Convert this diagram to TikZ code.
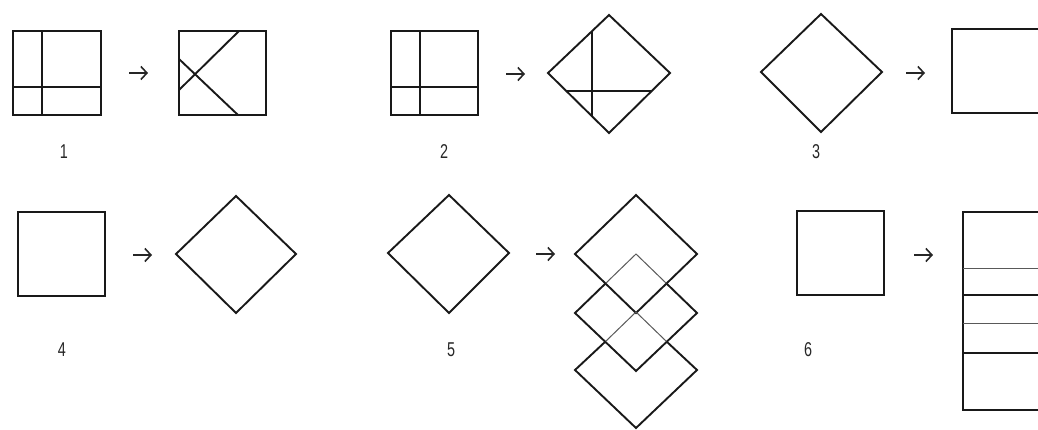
\documentclass[tikz,border=0pt]{standalone}
\usepackage{fontspec}
\setmainfont[FakeStretch=0.72]{Liberation Sans}
\usetikzlibrary{arrows.meta}
\tikzset{
  shp/.style={line width=1.9pt, line join=miter, draw=black!90},
  thin/.style={line width=1.0pt, draw=black!65},
  arr/.style={line width=1.6pt, draw=black!85, -{Straight Barb[length=6pt,width=13pt,line width=1.6pt]}},
  lbl/.style={font=\fontsize{20}{20}\selectfont, text=black!85, inner sep=0pt}
}
\begin{document}
\begin{tikzpicture}[x=1pt,y=-1pt]
\useasboundingbox (0,0) rectangle (1038,430);
\clip (0,0) rectangle (1038,430);
% ---------- 1 ----------
\draw[shp] (13,31) rectangle (101,115);
\draw[shp] (42,31) -- (42,115);
\draw[shp] (13,87) -- (101,87);
\coordinate (a1s) at (129,73); \coordinate (a1e) at (148,73);
\draw[arr] (a1s) -- (a1e);
\draw[shp] (179,31) rectangle (266,115);
\draw[shp] (179,90) -- (239,31);
\draw[shp] (179,59) -- (238,115);
\node[lbl] (l1) at (64,152) {1};
% ---------- 2 ----------
\draw[shp] (391,31) rectangle (478,115);
\draw[shp] (420,31) -- (420,115);
\draw[shp] (391,87) -- (478,87);
\coordinate (a2s) at (506,74); \coordinate (a2e) at (525,74);
\draw[arr] (a2s) -- (a2e);
\draw[shp] (548,73) -- (609,15) -- (670,73) -- (609,133) -- cycle;
\draw[shp] (592,31) -- (592,116);
\draw[shp] (566,91) -- (652,91);
\node[lbl] (l2) at (444,152) {2};
% ---------- 3 ----------
\draw[shp] (761,72) -- (821,14) -- (882,72) -- (821,132) -- cycle;
\coordinate (a3s) at (906,73); \coordinate (a3e) at (925,73);
\draw[arr] (a3s) -- (a3e);
\draw[shp] (1060,29) -- (952,29) -- (952,113) -- (1060,113);
\node[lbl] (l3) at (816,152) {3};
% ---------- 4 ----------
\draw[shp] (18,212) rectangle (105,296);
\coordinate (a4s) at (133,255); \coordinate (a4e) at (152,255);
\draw[arr] (a4s) -- (a4e);
\draw[shp] (176,254) -- (236,196) -- (296,254) -- (236,313) -- cycle;
\node[lbl] (l4) at (62,350) {4};
% ---------- 5 ----------
\draw[shp] (388,253) -- (449,195) -- (509,253) -- (449,313) -- cycle;
\coordinate (a5s) at (536,254); \coordinate (a5e) at (555,254);
\draw[arr] (a5s) -- (a5e);
\draw[shp] (575,254) -- (636,195) -- (697,254) -- (636,313) -- cycle;
\draw[thin] (605.5,283.5) -- (636,254) -- (666.5,283.5);
\draw[shp] (605.5,283.5) -- (575,313) -- (636,371) -- (697,313) -- (666.5,283.5);
\draw[thin] (605.5,341.5) -- (636,312) -- (666.5,341.5);
\draw[shp] (605.5,341.5) -- (575,370) -- (636,428) -- (697,370) -- (666.5,341.5);
\node[lbl] (l5) at (451,350) {5};
% ---------- 6 ----------
\draw[shp] (797,211) rectangle (884,295);
\coordinate (a6s) at (914,255); \coordinate (a6e) at (933,255);
\draw[arr] (a6s) -- (a6e);
\draw[shp] (1060,212) -- (963,212) -- (963,410) -- (1060,410);
\draw[thin] (963,269) -- (1060,269);
\draw[shp] (963,295) -- (1060,295);
\draw[thin] (963,323) -- (1060,323);
\draw[shp] (963,353) -- (1060,353);
\node[lbl] (l6) at (808,350) {6};
\end{tikzpicture}
\end{document}
